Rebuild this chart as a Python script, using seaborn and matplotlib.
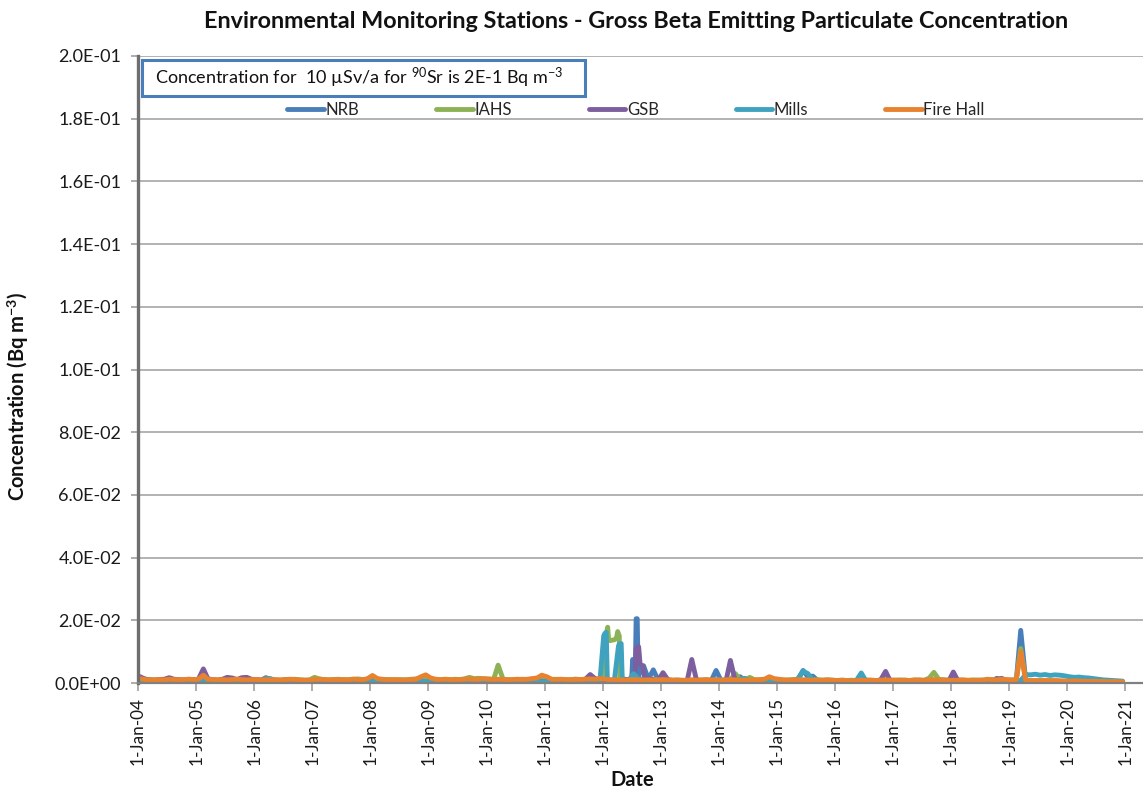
import numpy as np
import pandas as pd
import matplotlib
matplotlib.use("Agg")
import matplotlib.pyplot as plt
import matplotlib.dates as mdates
from matplotlib.patches import Rectangle
from matplotlib.ticker import FuncFormatter, MultipleLocator
import seaborn as sns

# Monthly gross beta concentration per station, units of 1E-4 Bq/m3 (Jan 2004 - Dec 2020)
nrb = [
    5, 6, 5, 4, 5, 6, 5, 4, 5, 6, 5, 4,
    5, 6, 5, 4, 5, 6, 5, 6, 5, 4, 5, 6,
    5, 4, 5, 6, 5, 4, 5, 6, 5, 4, 5, 6,
    5, 4, 5, 6, 5, 4, 5, 6, 5, 4, 5, 6,
    6, 5, 4, 5, 6, 5, 4, 5, 6, 5, 4, 5,
    5, 6, 5, 4, 5, 6, 5, 4, 5, 6, 5, 4,
    5, 4, 5, 6, 5, 4, 5, 6, 5, 4, 6, 5,
    5, 6, 5, 4, 5, 6, 5, 4, 6, 8, 10, 7,
    6, 6, 6, 8, 10, 8, 60, 25, 55, 12, 42, 10,
    8, 6, 5, 6, 5, 6, 5, 6, 5, 6, 8, 40,
    8, 6, 5, 8, 20, 8, 6, 5, 6, 8, 18, 10,
    8, 6, 5, 8, 12, 40, 20, 22, 8, 6, 5, 6,
    5, 6, 5, 4, 5, 6, 5, 4, 5, 6, 5, 4,
    5, 4, 5, 6, 5, 4, 5, 6, 5, 4, 5, 6,
    5, 6, 5, 4, 5, 6, 5, 4, 6, 15, 8, 6,
    6, 8, 168, 8, 6, 5, 6, 5, 4, 5, 4, 5,
    4, 5, 4, 3, 4, 3, 4, 3, 3, 4, 3, 3,
]
iahs = [
    11, 13, 10, 9, 10, 9, 10, 11, 10, 9, 12, 11,
    10, 11, 9, 10, 9, 10, 9, 10, 11, 10, 9, 10,
    10, 9, 10, 9, 10, 9, 10, 11, 12, 10, 9, 10,
    18, 13, 11, 10, 11, 12, 10, 11, 12, 13, 11, 12,
    15, 12, 11, 10, 11, 10, 11, 10, 12, 13, 14, 15,
    12, 11, 10, 11, 10, 12, 11, 13, 18, 14, 15, 13,
    13, 12, 57, 12, 11, 10, 11, 12, 11, 12, 13, 14,
    12, 11, 12, 11, 10, 11, 12, 11, 12, 13, 12, 13,
    14, 135, 138, 150, 12, 11, 12, 11, 12, 13, 12, 11,
    11, 10, 9, 10, 9, 8, 9, 10, 9, 10, 9, 10,
    9, 10, 11, 30, 10, 9, 18, 10, 9, 10, 11, 10,
    10, 9, 10, 11, 12, 10, 9, 10, 11, 9, 10, 9,
    8, 9, 8, 9, 8, 9, 10, 9, 8, 9, 10, 9,
    9, 10, 9, 8, 9, 10, 9, 15, 34, 12, 10, 9,
    9, 10, 9, 8, 10, 9, 10, 9, 10, 11, 10, 9,
    9, 10, 110, 9, 8, 7, 8, 7, 8, 7, 6, 6,
    6, 5, 6, 5, 5, 4, 5, 4, 4, 3, 4, 3,
]
gsb = [
    20, 12, 10, 9, 11, 12, 17, 12, 10, 9, 11, 10,
    12, 45, 14, 10, 9, 12, 18, 16, 11, 17, 18, 12,
    10, 9, 17, 11, 9, 8, 10, 9, 8, 7, 6, 5,
    5, 4, 5, 4, 5, 4, 4, 5, 4, 5, 4, 5,
    6, 5, 4, 5, 4, 5, 4, 5, 6, 5, 4, 5,
    5, 4, 5, 4, 5, 6, 5, 4, 5, 4, 5, 4,
    4, 5, 4, 5, 4, 5, 4, 5, 4, 5, 6, 5,
    5, 6, 5, 6, 5, 6, 5, 6, 12, 27, 14, 8,
    7, 6, 6, 8, 12, 10, 12, 115, 40, 15, 10, 8,
    33, 10, 8, 7, 6, 5, 75, 6, 5, 4, 5, 4,
    6, 6, 72, 5, 4, 5, 4, 5, 4, 5, 4, 5,
    4, 5, 4, 5, 4, 5, 6, 5, 4, 5, 4, 5,
    4, 5, 4, 5, 4, 5, 4, 5, 6, 10, 37, 6,
    5, 4, 5, 4, 5, 4, 5, 4, 5, 6, 5, 4,
    35, 5, 4, 5, 4, 5, 4, 5, 6, 12, 15, 8,
    6, 7, 5, 4, 5, 4, 5, 4, 5, 4, 5, 4,
    4, 3, 4, 3, 4, 3, 3, 4, 3, 3, 4, 3,
]
mills = [
    5, 4, 5, 6, 5, 4, 5, 4, 5, 6, 5, 4,
    4, 5, 6, 5, 4, 5, 6, 5, 4, 5, 6, 5,
    6, 8, 15, 14, 6, 5, 6, 5, 4, 5, 4, 5,
    4, 5, 4, 5, 6, 5, 4, 5, 4, 6, 5, 4,
    5, 4, 5, 4, 6, 5, 4, 5, 4, 5, 6, 5,
    5, 4, 5, 6, 5, 4, 5, 6, 5, 4, 5, 6,
    5, 4, 5, 6, 5, 6, 5, 4, 5, 6, 5, 4,
    5, 6, 5, 4, 5, 6, 5, 4, 6, 5, 6, 5,
    158, 8, 8, 124, 8, 10, 30, 12, 10, 8, 6, 5,
    6, 5, 4, 5, 6, 5, 8, 5, 4, 5, 6, 5,
    5, 6, 5, 4, 12, 15, 6, 5, 4, 5, 6, 5,
    5, 6, 5, 4, 15, 38, 30, 10, 6, 5, 4, 5,
    5, 4, 6, 5, 8, 32, 6, 5, 4, 5, 6, 5,
    4, 5, 6, 5, 4, 5, 6, 5, 4, 5, 6, 5,
    5, 4, 5, 6, 5, 4, 5, 6, 5, 4, 5, 6,
    6, 7, 8, 27, 26, 28, 25, 27, 24, 26, 25, 23,
    20, 18, 19, 17, 16, 14, 12, 10, 9, 8, 7, 6,
]
fire_hall = [
    14, 11, 10, 10, 11, 10, 12, 11, 10, 11, 12, 11,
    12, 25, 12, 11, 10, 11, 10, 11, 12, 11, 10, 11,
    11, 10, 10, 11, 10, 10, 11, 12, 11, 10, 9, 9,
    11, 12, 11, 10, 11, 10, 11, 10, 12, 11, 10, 14,
    24, 14, 12, 11, 10, 11, 9, 10, 11, 12, 20, 26,
    16, 12, 11, 12, 11, 10, 11, 12, 13, 11, 12, 14,
    12, 11, 12, 11, 10, 11, 12, 11, 12, 14, 16, 25,
    20, 12, 11, 12, 11, 10, 12, 11, 12, 13, 12, 14,
    12, 11, 10, 10, 9, 10, 11, 10, 9, 10, 9, 10,
    11, 10, 9, 9, 8, 9, 10, 9, 10, 11, 9, 10,
    9, 10, 11, 10, 9, 10, 9, 10, 11, 12, 20, 14,
    12, 10, 9, 10, 11, 9, 10, 9, 8, 9, 10, 9,
    8, 9, 8, 7, 8, 9, 8, 9, 8, 9, 10, 9,
    9, 8, 9, 8, 10, 9, 8, 10, 11, 9, 10, 9,
    8, 9, 10, 9, 8, 9, 8, 12, 11, 10, 12, 11,
    10, 11, 100, 8, 7, 8, 7, 8, 7, 8, 7, 6,
    6, 7, 6, 6, 5, 6, 5, 5, 4, 5, 4, 4,
]

# Additional samples during the 2012 episode (date, 1E-4 Bq/m3)
nrb_2012 = [("2012-07-02", 12), ("2012-07-08", 75), ("2012-07-13", 70), ("2012-07-24", 15),
            ("2012-07-30", 205), ("2012-08-06", 205), ("2012-08-12", 20)]
iahs_2012 = [("2012-01-26", 160), ("2012-02-02", 178), ("2012-02-08", 140),
             ("2012-03-28", 142), ("2012-04-05", 164), ("2012-04-18", 14)]
gsb_2012 = [("2012-07-22", 12), ("2012-07-30", 110), ("2012-08-12", 117),
            ("2012-08-24", 60), ("2012-09-08", 55), ("2012-09-20", 12)]
mills_2012 = [("2012-01-08", 150), ("2012-01-24", 162), ("2012-01-31", 12),
              ("2012-04-10", 118), ("2012-04-27", 126), ("2012-05-04", 10)]
fire_hall_2012 = []

stations = ["NRB", "IAHS", "GSB", "Mills", "Fire Hall"]
colors = ["#4a7ebb", "#8db255", "#7d5fa0", "#3fa2bf", "#e8822f"]
monthly = [nrb, iahs, gsb, mills, fire_hall]
extras = [nrb_2012, iahs_2012, gsb_2012, mills_2012, fire_hall_2012]

sample_dates = pd.date_range("2004-01-01", periods=len(nrb), freq="MS") + pd.Timedelta(days=14)

frames = []
for name, vals, extra in zip(stations, monthly, extras):
    d = list(sample_dates) + [pd.Timestamp(t) for t, _ in extra]
    v = list(vals) + [val for _, val in extra]
    frames.append(pd.DataFrame({"Date": d, "conc": np.array(v) * 1e-4, "station": name}))
df = pd.concat(frames, ignore_index=True)

sns.set_theme(style="white")
plt.rcParams["font.family"] = ["Lato", "DejaVu Sans"]
plt.rcParams["mathtext.fontset"] = "custom"
plt.rcParams["mathtext.rm"] = "Lato"
plt.rcParams["mathtext.it"] = "Lato"
plt.rcParams["mathtext.bf"] = "Lato:bold"

W, H = 1143, 793
fig = plt.figure(figsize=(W / 100, H / 100), dpi=100)
ax = fig.add_axes([138 / W, 1 - 683 / H, (W - 138) / W, (683 - 56) / H])

sns.lineplot(data=df, x="Date", y="conc", hue="station", hue_order=stations,
             palette=dict(zip(stations, colors)), estimator=None, sort=True,
             linewidth=3.5, ax=ax, solid_joinstyle="round", solid_capstyle="round")

ax.set_ylim(0, 0.2)
ax.set_xlim(pd.Timestamp("2004-01-01"), pd.Timestamp("2021-04-22"))
ax.yaxis.set_major_locator(MultipleLocator(0.02))
ax.yaxis.set_major_formatter(FuncFormatter(lambda v, p: f"{v:.1E}"))
ax.xaxis.set_major_locator(mdates.YearLocator(1, month=1, day=1))
ax.xaxis.set_major_formatter(FuncFormatter(
    lambda v, p: f"{mdates.num2date(v).day}-{mdates.num2date(v).strftime('%b-%y')}"))

ax.grid(axis="y", color="#a6a6a6", linewidth=1.2)
ax.grid(axis="x", visible=False)
ax.set_axisbelow(True)
for s in ["top", "right"]:
    ax.spines[s].set_visible(False)
ax.spines["left"].set_color("#6e6e6e")
ax.spines["left"].set_linewidth(2.4)
ax.spines["bottom"].set_color("#808080")
ax.spines["bottom"].set_linewidth(1.6)

ax.tick_params(axis="y", which="major", left=True, length=5, width=1.2, color="#a0a0a0",
               labelsize=13, labelcolor="#1a1a1a", pad=7)
ax.tick_params(axis="x", which="major", bottom=True, length=6, width=1.2, color="#a0a0a0",
               labelsize=12.3, labelcolor="#1a1a1a", labelrotation=90, pad=4)
ax.set_xlabel("")
ax.set_ylabel("")

# threshold note box
ax.add_patch(Rectangle(((142 - 138) / (W - 138), (683 - 96) / 627), (585 - 142) / (W - 138),
                       36 / 627, transform=ax.transAxes, fill=True, facecolor="white",
                       edgecolor="#4a7ebb", linewidth=2.2, zorder=5))
ax.text((155 - 138) / (W - 138), (683 - 78) / 627,
        "Concentration for  10 \u00b5Sv/a for $^{\\mathrm{90}}$Sr is 2E-1 Bq m$^{\\mathrm{-3}}$",
        transform=ax.transAxes, ha="left", va="center", fontsize=13, color="#111111", zorder=6)

sns.move_legend(ax, "center", bbox_to_anchor=((636 - 138) / (W - 138), (683 - 110) / 627),
                ncol=5, frameon=False, title=None, fontsize=12, handlelength=2.2,
                columnspacing=4.6, handletextpad=0.1)

fig.text(636 / W, 1 - 21 / H,
         "Environmental Monitoring Stations - Gross Beta Emitting Particulate Concentration",
         ha="center", va="center", fontsize=16.8, fontweight="bold", color="#111111")
fig.text(18 / W, 1 - 396 / H, r"Concentration (Bq m$^{\mathbf{-3}}$)", rotation=90,
         ha="center", va="center", fontsize=14.5, fontweight="bold", color="#111111")
fig.text(632 / W, 1 - 780 / H, "Date", ha="center", va="center", fontsize=14.5,
         fontweight="bold", color="#111111")

fig.savefig("out.png", dpi=100)
